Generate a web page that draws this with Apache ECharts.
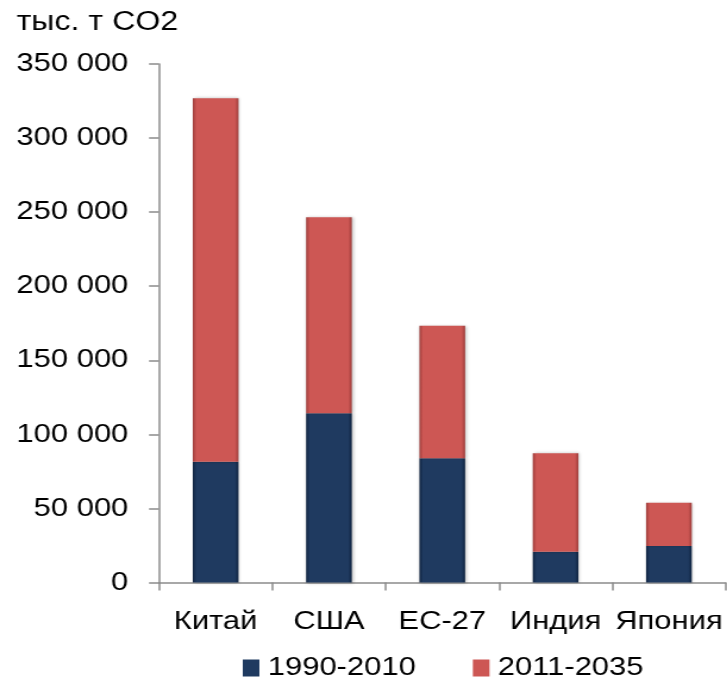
<!DOCTYPE html>
<html>
<head>
<meta charset="utf-8">
<script src="https://cdn.jsdelivr.net/npm/echarts@6/dist/echarts.min.js"></script>
<style>
html,body{margin:0;padding:0;background:#fff;overflow:hidden;width:727px;height:679px}
#c{width:611px;height:679px;transform:scaleX(1.19);transform-origin:0 0}
</style>
</head>
<body>
<div id="c"></div>
<script>
const categories = ['Китай', 'США', 'ЕС-27', 'Индия', 'Япония'];
const seriesNames = ['1990-2010', '2011-2035'];
const values1990 = [81550, 114200, 83850, 20800, 24650];
const values2011 = [245300, 132300, 89500, 66400, 29250];
const yTicks = [0, 50000, 100000, 150000, 200000, 250000, 300000, 350000];
const unitLabel = 'тыс. т CO2';

const FONT = 'Liberation Sans, Arial, sans-serif';
function grad(edge, mid) {
  return new echarts.graphic.LinearGradient(0, 0, 1, 0, [
    {offset: 0, color: edge}, {offset: 0.08, color: mid},
    {offset: 0.92, color: mid}, {offset: 1, color: edge}
  ]);
}
const chart = echarts.init(document.getElementById('c'));
const fmt = v => String(v).replace(/\B(?=(\d{3})+(?!\d))/g, ' ');
chart.setOption({
  animation: false,
  textStyle: {fontFamily: FONT},
  title: {text: unitLabel, left: 14, top: 9, padding: 0,
    textStyle: {fontSize: 27, fontWeight: 'normal', color: '#000', fontFamily: FONT}},
  grid: {left: 133.6, right: 1.3, top: 64, bottom: 96.5, containLabel: false},
  legend: {top: 655, left: 204, padding: 0, itemWidth: 14, itemHeight: 17, itemGap: 48,
    textStyle: {fontSize: 26, color: '#000', padding: [0, 0, 0, 2], fontFamily: FONT},
    data: [
      {name: seriesNames[0], icon: 'rect', itemStyle: {color: '#1f3a60', borderWidth: 0}},
      {name: seriesNames[1], icon: 'rect', itemStyle: {color: '#cd5754', borderWidth: 0}}]},
  xAxis: {type: 'category', data: categories,
    axisLine: {lineStyle: {color: '#8c8c8c', width: 1.5}},
    axisTick: {show: true, alignWithLabel: false, length: 8, lineStyle: {color: '#8c8c8c', width: 1.5}},
    axisLabel: {fontSize: 26, color: '#000', margin: 26, interval: 0, fontFamily: FONT}},
  yAxis: {type: 'value', min: yTicks[0], max: yTicks[yTicks.length - 1], interval: 50000,
    splitLine: {show: false},
    axisLine: {show: true, lineStyle: {color: '#8c8c8c', width: 1.5}},
    axisTick: {show: true, inside: false, length: 8.4, lineStyle: {color: '#8c8c8c', width: 1.5}},
    axisLabel: {fontSize: 26, color: '#000', margin: 25.8, padding: [5, 0, 0, 0], formatter: fmt, fontFamily: FONT}},
  series: [
    {name: seriesNames[0], type: 'bar', stack: 'a', data: values1990, barWidth: 38.4,
      itemStyle: {color: grad('#0f2340', '#1f3a60'),
        shadowColor: 'rgba(0,0,0,0.25)', shadowBlur: 3, shadowOffsetX: 1}},
    {name: seriesNames[1], type: 'bar', stack: 'a', data: values2011, barWidth: 38.4,
      itemStyle: {color: grad('#9e3d3b', '#cd5754'),
        shadowColor: 'rgba(0,0,0,0.25)', shadowBlur: 3, shadowOffsetX: 1}}
  ]
});
</script>
</body>
</html>
